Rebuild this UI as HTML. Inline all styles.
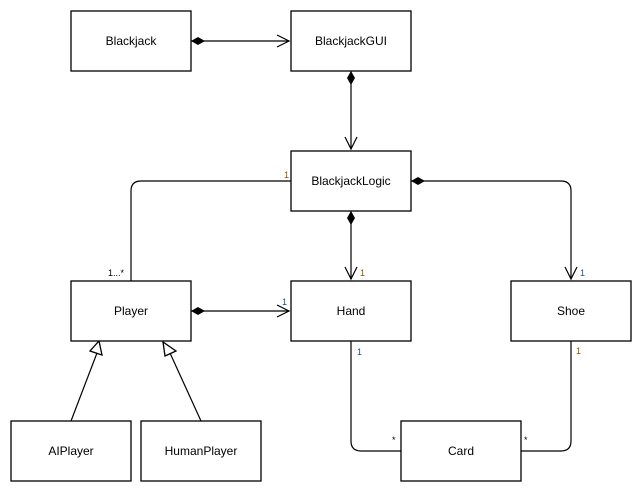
<!DOCTYPE html>
<html><head><meta charset="utf-8"><style>
html,body{margin:0;padding:0;background:#fff;}
svg{display:block;font-family:"Liberation Sans",Arial,sans-serif;}
.b{fill:#fff;stroke:#000;stroke-width:1.3;}
.l{fill:none;stroke:#000;stroke-width:1.2;}
.t{font-size:12px;text-anchor:middle;dominant-baseline:central;}
.m{font-size:9px;}
.o{fill:#8a5200;}
.u{fill:#1a4f8a;}
</style></head><body>
<svg width="644" height="494" viewBox="0 0 644 494">
<!-- connectors -->
<path class="l" d="M191 41 H289"/><path class="l" d="M277 35 L289 41 L277 47"/>
<polygon points="191,41 198,37 205,41 198,45" fill="#000"/>
<path class="l" d="M351 71 V149"/><path class="l" d="M345 137 L351 149 L357 137"/>
<polygon points="351,71 355,78 351,85 347,78" fill="#000"/>
<path class="l" d="M291 181 H141 Q131 181 131 191 V281"/>
<path class="l" d="M351 211 V279"/><path class="l" d="M345 267 L351 279 L357 267"/>
<polygon points="351,211 355,218 351,225 347,218" fill="#000"/>
<path class="l" d="M411 181 H561 Q571 181 571 191 V279"/><path class="l" d="M565 267 L571 279 L577 267"/>
<polygon points="411,181 418,177 425,181 418,185" fill="#000"/>
<path class="l" d="M191 311 H289"/><path class="l" d="M277 305 L289 311 L277 317"/>
<polygon points="191,311 198,307 205,311 198,315" fill="#000"/>
<path class="l" d="M351 341 V441 Q351 451 361 451 H401"/>
<path class="l" d="M571 341 V441 Q571 451 561 451 H521"/>
<path class="l" d="M71 421 L97 353"/><polygon class="b" points="90,351 102,355 99,341"/>
<path class="l" d="M201 421 L170 353"/><polygon class="b" points="165,356 176,351 163,342"/>
<!-- boxes -->
<rect class="b" x="71" y="11" width="120" height="60"/><text class="t" x="131" y="41">Blackjack</text>
<rect class="b" x="291" y="11" width="120" height="60"/><text class="t" x="351" y="41">BlackjackGUI</text>
<rect class="b" x="291" y="151" width="120" height="60"/><text class="t" x="351" y="181">BlackjackLogic</text>
<rect class="b" x="71" y="281" width="120" height="60"/><text class="t" x="131" y="311">Player</text>
<rect class="b" x="291" y="281" width="120" height="60"/><text class="t" x="351" y="311">Hand</text>
<rect class="b" x="511" y="281" width="120" height="60"/><text class="t" x="571" y="311">Shoe</text>
<rect class="b" x="11" y="421" width="120" height="60"/><text class="t" x="71" y="451">AIPlayer</text>
<rect class="b" x="141" y="421" width="120" height="60"/><text class="t" x="201" y="451">HumanPlayer</text>
<rect class="b" x="401" y="421" width="120" height="60"/><text class="t" x="461" y="451">Card</text>
<!-- multiplicities -->
<text class="m o" x="284" y="178">1</text>
<text class="m" x="108" y="276">1...*</text>
<text class="m o" x="360" y="276">1</text>
<text class="m u" x="580" y="276">1</text>
<text class="m u" x="282" y="305">1</text>
<text class="m u" x="357" y="355">1</text>
<text class="m o" x="576" y="354">1</text>
<text class="m" x="392" y="443">*</text>
<text class="m" x="524" y="443">*</text>
</svg>
</body></html>
